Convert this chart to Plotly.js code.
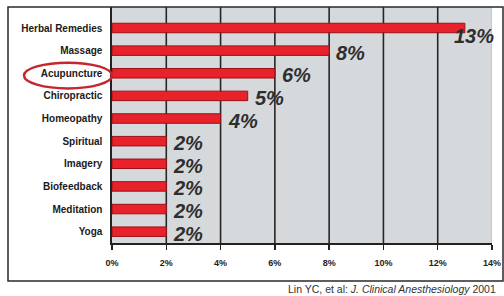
<!DOCTYPE html>
<html>
<head>
<meta charset="utf-8">
<script src="https://cdn.plot.ly/plotly-3.0.1.min.js"></script>
<style>
  html, body { margin: 0; padding: 0; background: #ffffff; }
  #chart { width: 504px; height: 296px; }
</style>
</head>
<body>
<div id="chart"></div>
<script>
// ---- data ----
const categories = ["Herbal Remedies", "Massage", "Acupuncture", "Chiropractic", "Homeopathy",
                    "Spiritual", "Imagery", "Biofeedback", "Meditation", "Yoga"];
const values = [13, 8, 6, 5, 4, 2, 2, 2, 2, 2];
const tickVals = [0, 2, 4, 6, 8, 10, 12, 14];
const tickText = ["0%", "2%", "4%", "6%", "8%", "10%", "12%", "14%"];
const highlighted = "Acupuncture";
const sourceText = "Lin YC, et al: <i>J. Clinical Anesthesiology</i> 2001";

// ---- geometry helpers (layout only) ----
const W = 504, H = 296;
const M = { l: 112, r: 12, t: 7, b: 53 };
const pw = W - M.l - M.r, ph = H - M.t - M.b;
const px = p => (p - M.l) / pw;          // pixel x -> paper x
const py = p => (H - M.b - p) / ph;      // pixel y -> paper y
const xMax = tickVals[tickVals.length - 1];

const trace = {
  type: "bar",
  orientation: "h",
  x: values,
  y: categories,
  width: 0.42,
  marker: { color: "#e8222b", line: { color: "#9c1018", width: 1 } },
  hoverinfo: "none"
};

const annotations = categories.map((c, i) => {
  const overflow = values[i] > xMax - 2;
  return {
    x: values[i], y: c, xref: "x", yref: "y",
    text: values[i] + "%",
    showarrow: false,
    xanchor: "left", yanchor: "middle",
    xshift: overflow ? -13 : 5,
    yshift: overflow ? -8 : -2,
    font: { family: "Liberation Sans, Arial, sans-serif", size: 20, color: "#2e2e2e", style: "italic", weight: "bold" }
  };
});
annotations.push({
  x: px(498), y: py(289), xref: "paper", yref: "paper",
  xanchor: "right", yanchor: "middle", showarrow: false,
  text: sourceText,
  font: { family: "Liberation Sans, Arial, sans-serif", size: 10.5, color: "#333" }
});

const shapes = [];
// vertical grid lines from the tick values
tickVals.forEach(v => {
  if (v === 0) return;
  shapes.push({
    type: "line", xref: "x", yref: "paper", x0: v, x1: v, y0: 0, y1: 1,
    line: { color: v === xMax ? "#b5b8bb" : "#262626", width: v === xMax ? 1 : 1.6 },
    layer: "below"
  });
});
// outer frame
shapes.push({
  type: "rect", xref: "paper", yref: "paper",
  x0: px(8), x1: px(503), y0: py(281), y1: py(7),
  line: { color: "#2a2a2a", width: 1.5 }, fillcolor: "rgba(0,0,0,0)"
});
// highlight ellipse around a category label
const hi = categories.indexOf(highlighted);
shapes.push({
  type: "circle", xref: "paper", yref: "y",
  x0: px(24), x1: px(112),
  y0: hi - 0.47, y1: hi + 0.67,
  line: { color: "#c4262d", width: 2.5 }, fillcolor: "rgba(0,0,0,0)"
});

const layout = {
  width: W, height: H,
  margin: M,
  paper_bgcolor: "#ffffff",
  plot_bgcolor: "#d6d9dc",
  showlegend: false,
  bargap: 0.5,
  xaxis: {
    range: [0, xMax],
    tickvals: tickVals, ticktext: tickText,
    showgrid: false, zeroline: false,
    showline: true, linecolor: "#222", linewidth: 1.6,
    ticks: "outside", ticklen: 5, tickcolor: "#222", tickwidth: 1.4,
    ticklabelstandoff: 6,
    tickfont: { family: "Liberation Sans, Arial, sans-serif", size: 9, color: "#222", weight: "bold" },
    fixedrange: true
  },
  yaxis: {
    autorange: "reversed",
    showgrid: false, zeroline: false,
    showline: true, linecolor: "#222", linewidth: 1.6,
    ticks: "outside", ticklen: 6, tickcolor: "rgba(0,0,0,0)",
    tickfont: { family: "Liberation Sans, Arial, sans-serif", size: 10, color: "#1a1a1a", weight: "bold" },
    fixedrange: true
  },
  annotations: annotations,
  shapes: shapes
};

Plotly.newPlot("chart", [trace], layout, { displayModeBar: false, staticPlot: true });
</script>
</body>
</html>
